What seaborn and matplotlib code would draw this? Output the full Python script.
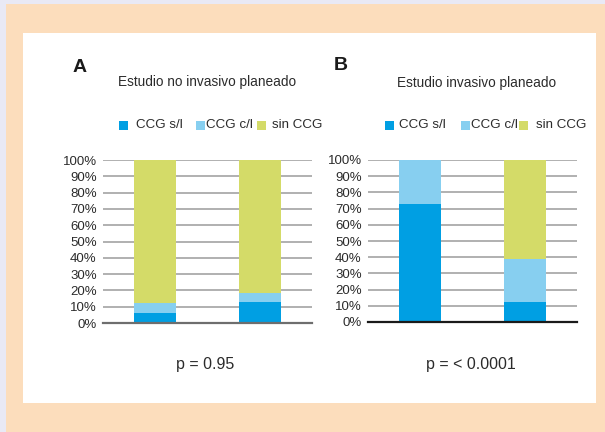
import matplotlib
matplotlib.use("Agg")
import matplotlib.pyplot as plt
from matplotlib.patches import Rectangle
import seaborn as sns
import pandas as pd
import numpy as np

# Data (percentages per group)
series = ["CCG s/l", "CCG c/l", "sin CCG"]
groups = ["Grupo 1", "Grupo 2"]
a_sl = [6.0, 13.0]
a_cl = [6.0, 5.5]
a_sin = [88.0, 81.5]
b_sl = [73.0, 12.5]
b_cl = [27.0, 26.5]
b_sin = [0.0, 61.0]
yticks = [0, 10, 20, 30, 40, 50, 60, 70, 80, 90, 100]
panel_letters = ["A", "B"]
panel_titles = ["Estudio no invasivo planeado", "Estudio invasivo planeado"]
p_labels = ["p = 0.95", "p = < 0.0001"]

colors = {"CCG s/l": "#009FE3", "CCG c/l": "#87CFF0", "sin CCG": "#D4DB68"}
text_color = "#2B2B2B"

W, H = 605, 432
sns.set_theme(style="white")
plt.rcParams["font.family"] = ["Liberation Sans", "DejaVu Sans"]

fig = plt.figure(figsize=(W / 100, H / 100), dpi=100)
fig.patch.set_facecolor("#E9E9F5")


def px_rect(x0, y0, x1, y1, **kw):
    """Rectangle given in pixel coordinates measured from the top-left corner."""
    fig.patches.append(Rectangle((x0 / W, 1 - y1 / H), (x1 - x0) / W, (y1 - y0) / H,
                                 transform=fig.transFigure, figure=fig, **kw))


# Framed background
px_rect(6, 4, 605, 432, facecolor="#FCDDBC", edgecolor="none", zorder=-2)
px_rect(23, 33, 596, 403, facecolor="white", edgecolor="none", zorder=-1)


def long_frame(sl, cl, sin):
    rows = []
    for g, v1, v2, v3 in zip(groups, sl, cl, sin):
        rows.append({"grupo": g, "serie": series[0], "valor": v1})
        rows.append({"grupo": g, "serie": series[1], "valor": v2})
        rows.append({"grupo": g, "serie": series[2], "valor": v3})
    df = pd.DataFrame(rows)
    df["acum"] = df.groupby("grupo")["valor"].cumsum()
    return df


frames = [long_frame(a_sl, a_cl, a_sin), long_frame(b_sl, b_cl, b_sin)]

# axes boxes in pixels: left, top, right, bottom
boxes = [(103, 160, 312, 323), (368, 160, 577, 322)]
base_colors = ["#6E6E6E", "#1A1A1A"]
letter_pos = [(73, 67), (334, 66)]
title_pos = [(118, 82), (397, 83)]
legend_sq = [[119, 196, 257], [385, 461, 519]]
legend_tx = [[136, 206, 272], [399, 471, 536]]
p_pos = [205, 471]

for i, df in enumerate(frames):
    x0, y0, x1, y1 = boxes[i]
    ax = fig.add_axes([x0 / W, 1 - y1 / H, (x1 - x0) / W, (y1 - y0) / H])
    ax.set_zorder(1)
    ax.set_facecolor("none")
    # stacked bars: draw cumulative totals from the top series down
    for s in reversed(series):
        sub = df[df["serie"] == s]
        sns.barplot(data=sub, x="grupo", y="acum", order=groups, color=colors[s],
                    width=0.4, saturation=1, ax=ax, zorder=3, edgecolor="none")
    ax.set_xlim(-0.5, 1.5)
    ax.set_ylim(0, 100)
    ax.set_yticks(yticks)
    ax.set_yticklabels([f"{t}%" for t in yticks], fontsize=9.5, color=text_color)
    ax.tick_params(axis="y", length=0, pad=4.5)
    ax.set_xticks([])
    ax.set_xlabel("")
    ax.set_ylabel("")
    ax.grid(axis="y", color="#A3A3A3", linewidth=1.2, zorder=0)
    ax.set_axisbelow(True)
    for sp in ["left", "right", "top"]:
        ax.spines[sp].set_visible(False)
    ax.spines["bottom"].set_color(base_colors[i])
    ax.spines["bottom"].set_linewidth(1.6)
    ax.spines["bottom"].set_zorder(5)

    lx, ly = letter_pos[i]
    fig.text(lx / W, 1 - ly / H, panel_letters[i], fontsize=14, fontweight="bold",
             color="#1A1A1A", ha="left", va="center")
    tx, ty = title_pos[i]
    fig.text(tx / W, 1 - ty / H, panel_titles[i], fontsize=9.8, color=text_color,
             ha="left", va="center")
    for k, s in enumerate(series):
        sx = legend_sq[i][k]
        px_rect(sx, 121, sx + 9, 130, facecolor=colors[s], edgecolor="none", zorder=2)
        fig.text(legend_tx[i][k] / W, 1 - 125 / H, s, fontsize=9.6, color=text_color,
                 ha="left", va="center")
    fig.text(p_pos[i] / W, 1 - 365 / H, p_labels[i], fontsize=11.5, color=text_color,
             ha="center", va="center")

fig.savefig("out.png", dpi=100)
